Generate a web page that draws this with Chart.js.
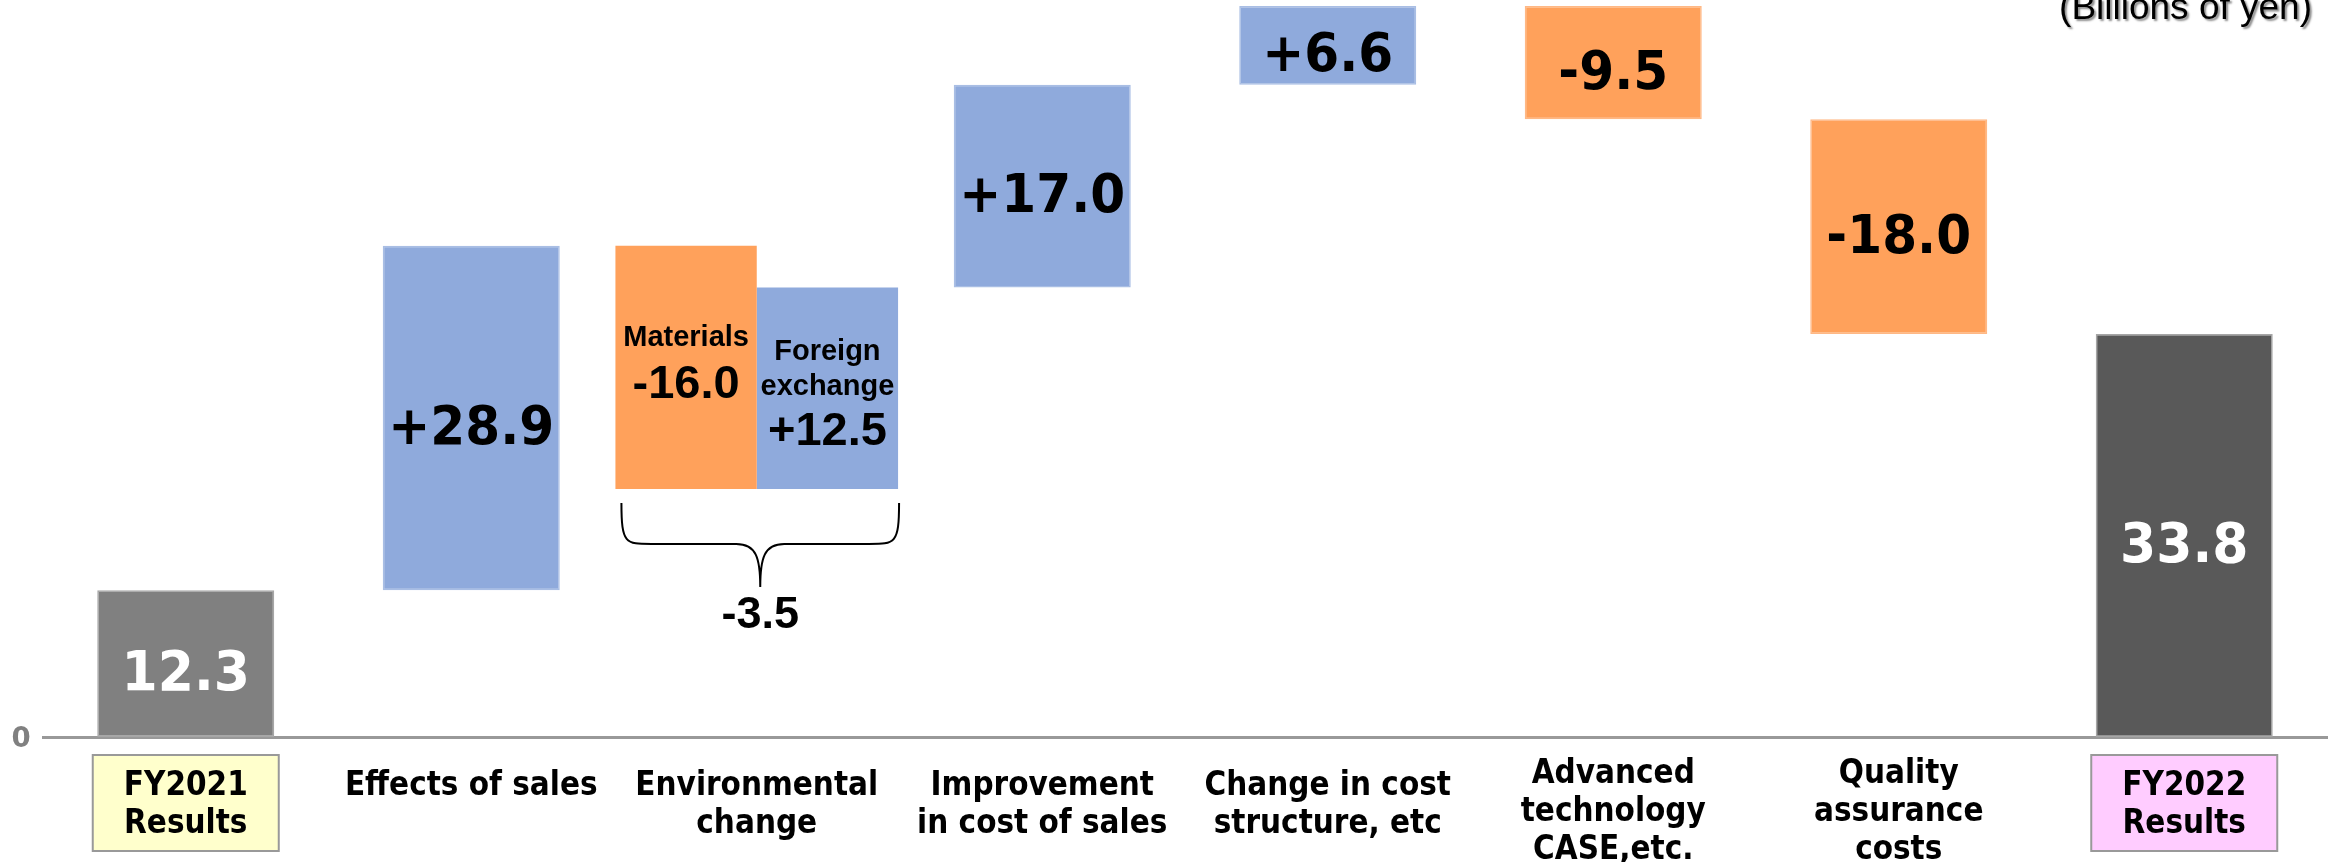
<!DOCTYPE html>
<html>
<head>
<meta charset="utf-8">
<script src="https://cdn.jsdelivr.net/npm/chart.js@4"></script>
<style>
  body { margin: 0; background: #ffffff; }
  #wrap { width: 2330px; height: 862px; position: relative; }
</style>
</head>
<body>
<div id="wrap"><canvas id="myChart"></canvas></div>
<script>
// data
const categories = [
  ["FY2021", "Results"],
  ["Effects of sales"],
  ["Environmental", "change"],
  ["Improvement", "in cost of sales"],
  ["Change in cost", "structure, etc"],
  ["Advanced", "technology", "CASE,etc."],
  ["Quality", "assurance", "costs"],
  ["FY2022", "Results"],
];
// first and last are totals, the rest are changes (billions of yen)
const deltas = [12.3, 28.9, -3.5, 17.0, 6.6, -9.5, -18.0, 33.8];
// breakdown of the environmental change
const envParts = ["Materials", "Foreign exchange"];
const envValues = [-16.0, 12.5];
const envBase = 20.8; // where the two breakdown bars sit (drawn schematic, not to scale)
const yTicks = [0];

const BLUE = "#8FAADC";
const ORANGE = "#FFA15B";
const totalColors = ["#808080", "#595959"];

// build the floating bars of the waterfall
let running = 0;
const mainBars = [];
const mainColors = [];
deltas.forEach((d, i) => {
  if (i === 0 || i === deltas.length - 1) {
    mainBars.push([0, d]);
    mainColors.push(i === 0 ? totalColors[0] : totalColors[1]);
    running = d;
  } else if (i === 2) {
    mainBars.push(null);
    mainColors.push(BLUE);
    running += d;
  } else {
    mainBars.push([running, running + d]);
    mainColors.push(d >= 0 ? BLUE : ORANGE);
    running += d;
  }
});
const envStart = deltas[0] + deltas[1];
const materialsBar = categories.map((c, i) => (i === 2 ? [envStart, envBase] : null));
const foreignBar = categories.map((c, i) => (i === 2 ? [envBase, envStart + deltas[2]] : null));

function fmt(v, signed) {
  const s = Math.abs(v).toFixed(1);
  if (!signed) return s;
  return (v >= 0 ? "+" : "-") + s;
}

function txt(ctx, s, x, y, font, color, sx) {
  ctx.save();
  ctx.translate(x, y);
  ctx.scale(sx || 1, 1);
  ctx.font = font;
  ctx.fillStyle = color;
  ctx.textAlign = "center";
  ctx.textBaseline = "middle";
  ctx.fillText(s, 0, 0);
  ctx.restore();
}

const labelPlugin = {
  id: "waterfallLabels",
  afterDatasetsDraw(chart) {
    const ctx = chart.ctx;
    const main = chart.getDatasetMeta(0).data;
    deltas.forEach((d, i) => {
      const bar = main[i];
      if (!bar || mainBars[i] === null) return;
      const cy = (bar.y + bar.base) / 2 + 12;
      const total = i === 0 || i === deltas.length - 1;
      txt(ctx, fmt(d, !total), bar.x, cy,
        "bold " + (total ? 56 : 54) + "px 'DejaVu Sans'", total ? "#ffffff" : "#000000", 0.93);
    });

    // environmental breakdown
    const mat = chart.getDatasetMeta(1).data[2];
    const fx = chart.getDatasetMeta(2).data[2];
    const small = "bold 29px 'Liberation Sans', Arial";
    const big = "bold 47px 'Liberation Sans', Arial";
    let c = (mat.y + mat.base) / 2;
    txt(ctx, envParts[0], mat.x, c - 29, small, "#000");
    txt(ctx, fmt(envValues[0], true), mat.x, c + 18, big, "#000");
    c = (fx.y + fx.base) / 2 + 4;
    txt(ctx, "Foreign", fx.x, c - 40, small, "#000");
    txt(ctx, "exchange", fx.x, c - 5, small, "#000");
    txt(ctx, fmt(envValues[1], true), fx.x, c + 40, big, "#000");

    // brace under the two bars
    const L = mat.x - mat.width / 2 + 6;
    const R = fx.x + fx.width / 2 + 1;
    const C = (L + R) / 2;
    const top = Math.max(mat.base, fx.y) + 14;
    const mid = top + 41;
    const tip = top + 84;
    ctx.save();
    ctx.strokeStyle = "#000";
    ctx.lineWidth = 2;
    ctx.beginPath();
    ctx.moveTo(L, top);
    ctx.bezierCurveTo(L, mid, L + 4, mid, L + 30, mid);
    ctx.lineTo(C - 24, mid);
    ctx.bezierCurveTo(C - 4, mid, C, mid + 14, C, tip);
    ctx.bezierCurveTo(C, mid + 14, C + 4, mid, C + 24, mid);
    ctx.lineTo(R - 30, mid);
    ctx.bezierCurveTo(R - 4, mid, R, mid, R, top);
    ctx.stroke();
    ctx.restore();
    txt(ctx, fmt(deltas[2], true), C, tip + 29, "bold 45px 'Liberation Sans', Arial", "#000");
  },
  afterDraw(chart) {
    const ctx = chart.ctx;
    const xs = chart.scales.x;
    const ys = chart.scales.y;
    const area = chart.chartArea;

    // category labels under the axis
    const lineH = 38;
    categories.forEach((lines, i) => {
      const x = xs.getPixelForValue(i);
      if (i === 0 || i === categories.length - 1) {
        ctx.save();
        ctx.fillStyle = i === 0 ? "#FFFFCC" : "#FFCCFF";
        ctx.strokeStyle = "#999999";
        ctx.lineWidth = 2;
        ctx.fillRect(x - 93, area.bottom + 18, 186, 96);
        ctx.strokeRect(x - 93, area.bottom + 18, 186, 96);
        ctx.restore();
      }
      const y0 = area.bottom + (lines.length > 2 ? 37 : 49);
      lines.forEach((s, k) => {
        txt(ctx, s, x, y0 + k * lineH, "bold 34px 'DejaVu Sans'", "#000", 0.87);
      });
    });

    // y tick label
    yTicks.forEach(v => {
      txt(ctx, String(v), 21, ys.getPixelForValue(v) + 2, "bold 29px 'DejaVu Sans'", "#808080", 0.95);
    });

    // unit note, partly cut at the top like the source
    ctx.save();
    ctx.font = "37px 'Liberation Sans', Arial";
    ctx.textAlign = "right";
    ctx.textBaseline = "alphabetic";
    ctx.fillStyle = "#000";
    ctx.shadowColor = "rgba(0,0,0,0.45)";
    ctx.shadowOffsetX = 2;
    ctx.shadowOffsetY = 2;
    ctx.shadowBlur = 2;
    ctx.fillText("(Billions of yen)", 2312, 19);
    ctx.restore();
  },
};

// config
const config = {
  type: "bar",
  data: {
    labels: categories,
    datasets: [
      {
        label: "Waterfall",
        data: mainBars,
        backgroundColor: mainColors,
        borderColor: mainColors.map(c => (c === BLUE ? "#A9BEE4" : c === ORANGE ? "#FFB885" : "#A6A6A6")),
        borderWidth: 1.5,
        borderSkipped: false,
        categoryPercentage: 1,
        barPercentage: 0.62,
        skipNull: true,
      },
      {
        label: envParts[0],
        data: materialsBar,
        backgroundColor: ORANGE,
        borderWidth: 0,
        categoryPercentage: 0.99,
        barPercentage: 1,
        skipNull: true,
      },
      {
        label: envParts[1],
        data: foreignBar,
        backgroundColor: BLUE,
        borderWidth: 0,
        categoryPercentage: 0.99,
        barPercentage: 1,
        skipNull: true,
      },
    ],
  },
  options: {
    responsive: true,
    maintainAspectRatio: false,
    animation: false,
    layout: { padding: { top: 0, right: 3, bottom: 0, left: 0 } },
    scales: {
      x: {
        grid: { display: false, drawTicks: false },
        border: { display: true, color: "#999999", width: 3 },
        ticks: { display: false },
        afterFit(scale) { scale.height = 125; },
      },
      y: {
        min: 0,
        max: 61.8,
        grid: { display: false, drawTicks: false },
        border: { display: false },
        ticks: { display: false },
        afterFit(scale) { scale.width = 43; },
      },
    },
    plugins: {
      legend: { display: false },
      tooltip: { enabled: false },
    },
  },
  plugins: [labelPlugin],
};

// render init block
const myChart = new Chart(document.getElementById("myChart"), config);
</script>
</body>
</html>
